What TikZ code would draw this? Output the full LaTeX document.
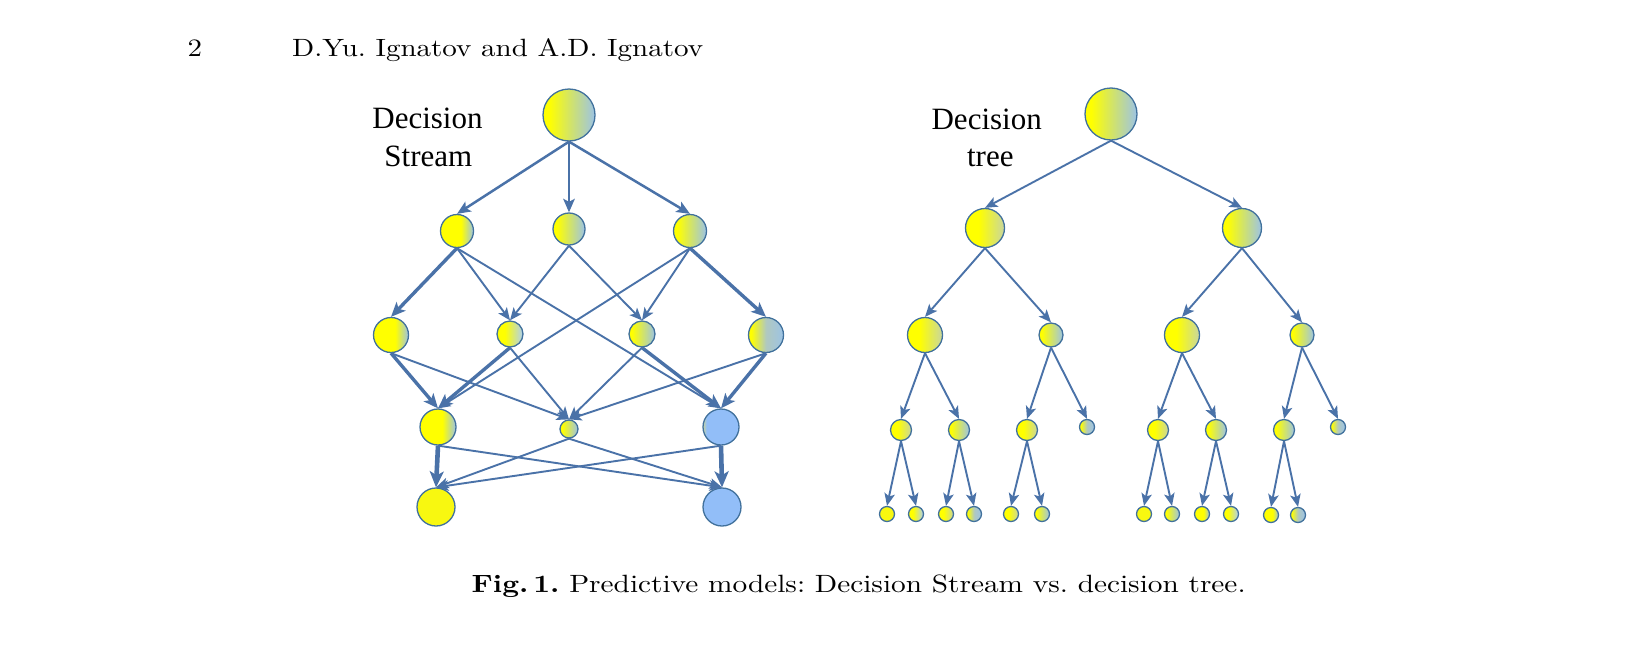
\documentclass[tikz,border=0pt]{standalone}
\usepackage{fontspec}
\usetikzlibrary{arrows.meta}
\newfontfamily\labfont{Liberation Serif}
\definecolor{yy}{HTML}{FFFF00}
\definecolor{ky}{HTML}{F8F810}
\definecolor{bl}{HTML}{92BEF8}
\definecolor{bg}{HTML}{9CC3E5}
\definecolor{lb}{HTML}{AECFF5}
\definecolor{yg}{HTML}{C8D6A0}
\definecolor{gg}{HTML}{B0C8C0}
\definecolor{bd}{HTML}{41719C}
\definecolor{ar}{HTML}{4A72A8}
\pgfdeclarehorizontalshading{shLin}{100bp}{color(0bp)=(yy); color(25bp)=(yy); color(31bp)=(yy); color(75bp)=(bg); color(100bp)=(bg)}
\pgfdeclarehorizontalshading{shMY}{100bp}{color(0bp)=(yy); color(25bp)=(yy); color(56bp)=(yy); color(75bp)=(bg); color(100bp)=(bg)}
\pgfdeclarehorizontalshading{shYG}{100bp}{color(0bp)=(yy); color(25bp)=(yy); color(42bp)=(yy); color(75bp)=(yg); color(100bp)=(yg)}
\pgfdeclarehorizontalshading{shE}{100bp}{color(0bp)=(yy); color(25bp)=(yy); color(40bp)=(yy); color(75bp)=(lb); color(100bp)=(lb)}
\pgfdeclarehorizontalshading{shG}{100bp}{color(0bp)=(yy); color(25bp)=(yy); color(29bp)=(yy); color(50bp)=(gg); color(75bp)=(bg); color(100bp)=(bg)}
\pgfdeclarehorizontalshading{shMB}{100bp}{color(0bp)=(yg); color(25bp)=(yg); color(30bp)=(bl); color(75bp)=(bl); color(100bp)=(bl)}
\tikzset{
  nd/.style={circle, draw=bd, line width=1.3pt, inner sep=0pt, minimum size=#1},
  nLin/.style={nd=#1, shading=shLin},
  nMY/.style={nd=#1, shading=shMY},
  nYG/.style={nd=#1, shading=shYG},
  nE/.style={nd=#1, shading=shE},
  nG/.style={nd=#1, shading=shG},
  nMB/.style={nd=#1, shading=shMB},
  nY/.style={nd=#1, fill=ky},
  nB/.style={nd=#1, fill=bl},
  ed/.style={draw=ar, line width=1.9pt, -{Stealth[length=12.5pt,width=10.5pt,inset=3pt]}},
  edm/.style={draw=ar, line width=2.5pt, -{Stealth[length=13.5pt,width=11.5pt,inset=3pt]}},
  edt/.style={draw=ar, line width=3.4pt, -{Stealth[length=14.5pt,width=12.5pt,inset=3.5pt]}},
  edv/.style={draw=ar, line width=4.6pt, -{Stealth[length=16pt,width=14pt,inset=4pt]}},
  lab/.style={font=\labfont\fontsize{31}{38}\selectfont, inner sep=0pt, anchor=base},
  txt/.style={inner sep=0pt, anchor=base west}
}
\begin{document}
\begin{tikzpicture}[x=1pt,y=-1pt]
\useasboundingbox (0,0) rectangle (1646,667);
% header
\node[txt] (pg) at (187.5,56.7) {\scalebox{2.9}[2.5]{2}};
\node[txt] (hd) at (292,56.7) {\scalebox{2.9}[2.5]{\frenchspacing D.Yu. Ignatov and A.D. Ignatov}};
% caption
\node[txt] (cap) at (471.5,592.7) {\scalebox{2.93}[2.5]{\frenchspacing\textbf{Fig.\,1.} Predictive models: Decision Stream vs. decision tree.}};
% labels
\node[lab] (l1a) at (427.5,128.3) {Decision};
\node[lab] (l1b) at (428.3,166) {Stream};
\node[lab] (l2a) at (986.7,129) {Decision};
\node[lab] (l2b) at (990.3,166.7) {tree};
% Decision Stream nodes
\node[nLin=52pt] (T) at (569,115) {};
\node[nMY=33pt] (A) at (457,231) {};
\node[nLin=32pt] (B) at (569,229) {};
\node[nLin=33pt] (C) at (690,231) {};
\node[nMY=35pt] (D) at (391,335) {};
\node[nE=26pt] (E) at (510,334) {};
\node[nLin=26pt] (F) at (642,334) {};
\node[nG=35pt] (G) at (766,335) {};
\node[nMY=36pt] (H) at (438,427) {};
\node[nLin=18pt] (I) at (569,429) {};
\node[nMB=36pt] (J) at (721,427) {};
\node[nY=38pt] (K) at (436,507) {};
\node[nB=38pt] (M) at (722,507) {};
% Decision Stream edges
\draw[edm] (T.south) -- (A.north);
\draw[edm] (T.south) -- (B.north);
\draw[edm] (T.south) -- (C.north);
\draw[edt] (A.south) -- (D.north);
\draw[ed] (A.south) -- (E.north);
\draw[ed] (A.south) -- (J.north);
\draw[ed] (B.south) -- (E.north);
\draw[ed] (B.south) -- (F.north);
\draw[ed] (C.south) -- (F.north);
\draw[ed] (C.south) -- (H.north);
\draw[edt] (C.south) -- (G.north);
\draw[edt] (D.south) -- (H.north);
\draw[ed] (D.south) -- (I.north);
\draw[edt] (E.south) -- (H.north);
\draw[ed] (E.south) -- (I.north);
\draw[ed] (F.south) -- (I.north);
\draw[edt] (F.south) -- (J.north);
\draw[ed] (G.south) -- (I.north);
\draw[edt] (G.south) -- (J.north);
\draw[edv] (H.south) -- (K.north);
\draw[ed] (H.south) -- (M.north);
\draw[ed] (I.south) -- (K.north);
\draw[ed] (I.south) -- (M.north);
\draw[ed] (J.south) -- (K.north);
\draw[edv] (J.south) -- (M.north);
% Decision tree nodes
\node[nLin=52pt] (R) at (1111,114) {};
\node[nYG=39pt] (P1) at (985,228) {};
\node[nLin=39pt] (P2) at (1242,228) {};
\node[nYG=35pt] (Q1) at (925,335) {};
\node[nLin=24pt] (Q2) at (1051,335) {};
\node[nYG=35pt] (Q3) at (1182,335) {};
\node[nLin=24pt] (Q4) at (1302,335) {};
\node[nYG=21pt] (S1) at (901,430) {};
\node[nLin=21pt] (S2) at (959,430) {};
\node[nYG=21pt] (S3) at (1027,430) {};
\node[nG=15pt] (S4) at (1087,427) {};
\node[nYG=21pt] (S5) at (1158,430) {};
\node[nLin=21pt] (S6) at (1216,430) {};
\node[nLin=21pt] (S7) at (1284,430) {};
\node[nG=15pt] (S8) at (1338,427) {};
\node[nY=15pt] (U1) at (887,514) {};
\node[nE=15pt] (U2) at (916,514) {};
\node[nYG=15pt] (U3) at (946,514) {};
\node[nG=15pt] (U4) at (974,514) {};
\node[nYG=15pt] (U5) at (1011,514) {};
\node[nLin=15pt] (U6) at (1042,514) {};
\node[nY=15pt] (U7) at (1144,514) {};
\node[nLin=15pt] (U8) at (1172,514) {};
\node[nMY=15pt] (U9) at (1202,514) {};
\node[nE=15pt] (U10) at (1231,514) {};
\node[nMY=15pt] (U11) at (1271,515) {};
\node[nG=15pt] (U12) at (1298,515) {};
% Decision tree edges
\draw[ed] (R.south) -- (P1.north);
\draw[ed] (R.south) -- (P2.north);
\draw[ed] (P1.south) -- (Q1.north);
\draw[ed] (P1.south) -- (Q2.north);
\draw[ed] (P2.south) -- (Q3.north);
\draw[ed] (P2.south) -- (Q4.north);
\draw[ed] (Q1.south) -- (S1.north);
\draw[ed] (Q1.south) -- (S2.north);
\draw[ed] (Q2.south) -- (S3.north);
\draw[ed] (Q2.south) -- (S4.north);
\draw[ed] (Q3.south) -- (S5.north);
\draw[ed] (Q3.south) -- (S6.north);
\draw[ed] (Q4.south) -- (S7.north);
\draw[ed] (Q4.south) -- (S8.north);
\draw[ed] (S1.south) -- (U1.north);
\draw[ed] (S1.south) -- (U2.north);
\draw[ed] (S2.south) -- (U3.north);
\draw[ed] (S2.south) -- (U4.north);
\draw[ed] (S3.south) -- (U5.north);
\draw[ed] (S3.south) -- (U6.north);
\draw[ed] (S5.south) -- (U7.north);
\draw[ed] (S5.south) -- (U8.north);
\draw[ed] (S6.south) -- (U9.north);
\draw[ed] (S6.south) -- (U10.north);
\draw[ed] (S7.south) -- (U11.north);
\draw[ed] (S7.south) -- (U12.north);
\end{tikzpicture}
\end{document}
